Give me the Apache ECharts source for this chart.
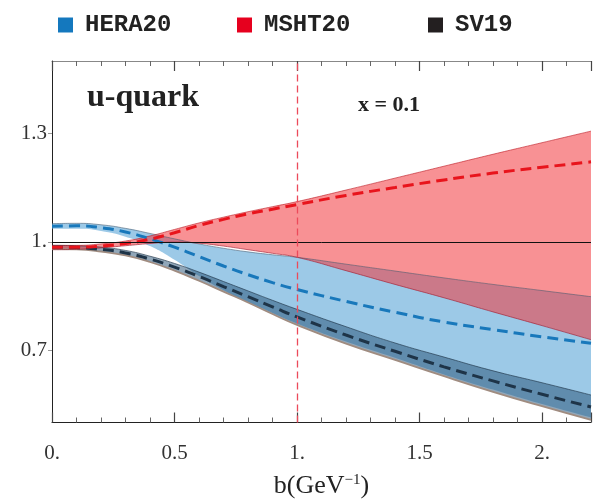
<!DOCTYPE html>
<html>
<head>
<meta charset="utf-8">
<script src="https://cdn.jsdelivr.net/npm/echarts@6/dist/echarts.min.js"></script>
<style>
html,body{margin:0;padding:0;background:#fff;}
#chart{width:594px;height:504px;}
</style>
</head>
<body>
<div id="chart"></div>
<script>
// b values (GeV^-1)
const bValues = [0, 0.1, 0.2, 0.3, 0.4, 0.5, 0.6, 0.7, 0.8, 0.9, 1.0, 1.2, 1.4, 1.6, 1.8, 2.0, 2.2];

// HERA20
const heraMid = [1.043, 1.044, 1.039, 1.027, 1.008, 0.985, 0.959, 0.933, 0.909, 0.887, 0.868, 0.835, 0.805, 0.778, 0.757, 0.737, 0.719];
const heraUp  = [1.050, 1.051, 1.047, 1.037, 1.023, 1.008, 0.994, 0.982, 0.972, 0.964, 0.957, 0.938, 0.919, 0.900, 0.882, 0.865, 0.848];
const heraLo  = [1.036, 1.036, 1.030, 1.014, 0.988, 0.950, 0.905, 0.866, 0.833, 0.803, 0.774, 0.724, 0.679, 0.633, 0.591, 0.551, 0.514];

// MSHT20
const mshtMid = [0.985, 0.985, 0.988, 0.995, 1.007, 1.025, 1.045, 1.062, 1.077, 1.090, 1.103, 1.128, 1.150, 1.171, 1.190, 1.206, 1.221];
const mshtUp  = [0.990, 0.990, 0.994, 1.002, 1.016, 1.034, 1.052, 1.068, 1.083, 1.097, 1.111, 1.143, 1.176, 1.209, 1.242, 1.274, 1.306];
const mshtLo  = [0.978, 0.979, 0.983, 0.989, 0.995, 0.999, 0.996, 0.988, 0.978, 0.968, 0.957, 0.920, 0.882, 0.845, 0.806, 0.768, 0.729];

// SV19
const sv19Mid = [0.985, 0.984, 0.979, 0.969, 0.952, 0.930, 0.904, 0.876, 0.848, 0.820, 0.792, 0.742, 0.697, 0.654, 0.615, 0.578, 0.543];
const sv19Up  = [0.990, 0.989, 0.985, 0.976, 0.960, 0.940, 0.916, 0.890, 0.864, 0.838, 0.813, 0.765, 0.720, 0.681, 0.643, 0.610, 0.576];
const sv19Lo  = [0.980, 0.979, 0.973, 0.962, 0.944, 0.920, 0.892, 0.862, 0.832, 0.800, 0.770, 0.718, 0.673, 0.628, 0.585, 0.545, 0.507];

const xTickLabels = [0, 0.5, 1, 1.5, 2];
const yTickLabels = [0.7, 1.0, 1.3];

const legendNames = ['HERA20', 'MSHT20', 'SV19'];
const legendColors = ['#1478be', '#e6001e', '#231f20'];

// data stored as [value, b] so the stack acts on the value dimension
function pairs(ys) { return bValues.map((b, i) => [ys[i], b]); }
function diff(a, b) { return a.map((v, i) => +(v - b[i]).toFixed(4)); }
const ENC = { x: 1, y: 0 };

const SM = 0.5;
function band(id, lo, up, color) {
  return [
    { type: 'line', name: id + '_lo', stack: id, data: pairs(lo), encode: ENC, smooth: SM, showSymbol: false,
      lineStyle: { width: 0, opacity: 0 }, silent: true },
    { type: 'line', name: id + '_w', stack: id, data: pairs(diff(up, lo)), encode: ENC, smooth: SM, showSymbol: false,
      lineStyle: { width: 0, opacity: 0 }, areaStyle: { color: color, opacity: 1 }, silent: true }
  ];
}
function edge(ys, color, width) {
  return { type: 'line', data: pairs(ys), encode: ENC, smooth: SM, showSymbol: false, silent: true,
    lineStyle: { color: color, width: width } };
}
function dashed(name, ys, color) {
  return { type: 'line', name: name, data: pairs(ys), encode: ENC, smooth: SM, showSymbol: false,
    itemStyle: { color: color },
    lineStyle: { color: color, width: 3, type: [11, 6] } };
}

const serif = 'Liberation Serif, DejaVu Serif, serif';

const series = [].concat(
  band('hera', heraLo, heraUp, 'rgba(90,165,215,0.6)'),
  band('sv19', sv19Lo, sv19Up, 'rgba(35,80,115,0.5)'),
  band('msht', mshtLo, mshtUp, 'rgba(242,55,60,0.55)'),
  [
    edge(heraUp, 'rgba(70,90,110,0.7)', 0.8),
    edge(sv19Up, 'rgba(30,50,70,0.8)', 0.8),
    edge(sv19Lo, '#a08c80', 1.8),
    edge(mshtUp, 'rgba(190,30,40,0.8)', 0.8),
    edge(mshtLo, 'rgba(160,30,50,0.8)', 0.8),
    dashed('HERA20', heraMid, '#1878bb'),
    dashed('SV19', sv19Mid, '#1e3448'),
    Object.assign(dashed('MSHT20', mshtMid, '#e8141c'), {
      markLine: {
        silent: true, symbol: 'none', label: { show: false }, z: 10,
        data: [
          { yAxis: 1.0, lineStyle: { color: '#111', width: 1, type: 'solid', opacity: 1 } },
          { xAxis: 1.0, lineStyle: { color: '#ec4a5a', width: 1.3, type: [7, 4], opacity: 1 } }
        ]
      }
    })
  ]
);

const legendLefts = [53, 232, 423];
const legends = legendNames.map((n, i) => ({
  left: legendLefts[i], top: 8, icon: 'rect', itemWidth: 15, itemHeight: 15,
  selectedMode: false,
  data: [{ name: n, itemStyle: { color: legendColors[i] } }],
  textStyle: { fontFamily: 'Liberation Mono, DejaVu Sans Mono, monospace', fontSize: 24,
    fontWeight: 'bold', color: '#222', padding: [0, 0, 0, 7] }
}));

const chart = echarts.init(document.getElementById('chart'), null, { renderer: 'canvas' });
chart.setOption({
  animation: false,
  backgroundColor: '#fff',
  legend: legends,
  grid: { left: 52, right: -3, top: 61, bottom: 81, containLabel: false },
  xAxis: [
    {
      type: 'value', min: 0, max: 2.2, interval: 0.5, position: 'bottom',
      name: 'b(GeV{sup|−1})', nameLocation: 'middle', nameGap: 50,
      nameTextStyle: { fontFamily: serif, fontSize: 26, color: '#222',
        rich: { sup: { fontFamily: serif, fontSize: 15, verticalAlign: 'top', padding: [0, 0, 12, 0], color: '#222' } } },
      axisLine: { show: true, lineStyle: { color: '#222', width: 1 } },
      axisTick: { show: true, inside: true, length: 10, lineStyle: { color: '#444', width: 1.2 } },
      minorTick: { show: true, splitNumber: 5, length: 5, lineStyle: { color: '#666', width: 1 } },
      axisLabel: { margin: 20, fontFamily: serif, fontSize: 21, color: '#333',
        formatter: v => (xTickLabels.includes(v) ? (Number.isInteger(v) ? v + '.' : String(v)) : '') },
      splitLine: { show: false }
    },
    {
      type: 'value', min: 0, max: 2.2, interval: 0.5, position: 'top',
      axisLine: { show: true, lineStyle: { color: '#888', width: 1 } },
      axisTick: { show: true, inside: true, length: 10, lineStyle: { color: '#444', width: 1.2 } },
      minorTick: { show: true, splitNumber: 5, length: 5, lineStyle: { color: '#666', width: 1 } },
      axisLabel: { show: false },
      splitLine: { show: false }
    }
  ],
  yAxis: {
    type: 'value', min: 0.5, max: 1.5,
    axisLine: { show: true, lineStyle: { color: '#222', width: 1 } },
    axisTick: { show: true, inside: false, length: 4, customValues: yTickLabels, lineStyle: { color: '#999' } },
    axisLabel: { show: true, customValues: yTickLabels, margin: 5, fontFamily: serif, fontSize: 21, color: '#333',
      formatter: v => (Math.abs(v - 1) < 1e-9 ? '1.' : String(v)) },
    splitLine: { show: false }
  },
  graphic: [
    { type: 'text', left: 87, top: 82, style: { text: 'u-quark', fontFamily: serif, fontWeight: 'bold', fontSize: 32, fill: '#222' } },
    { type: 'text', left: 358, top: 94, style: { text: 'x = 0.1', fontFamily: serif, fontWeight: 'bold', fontSize: 22, fill: '#222' } }
  ],
  series: series
});
</script>
</body>
</html>
